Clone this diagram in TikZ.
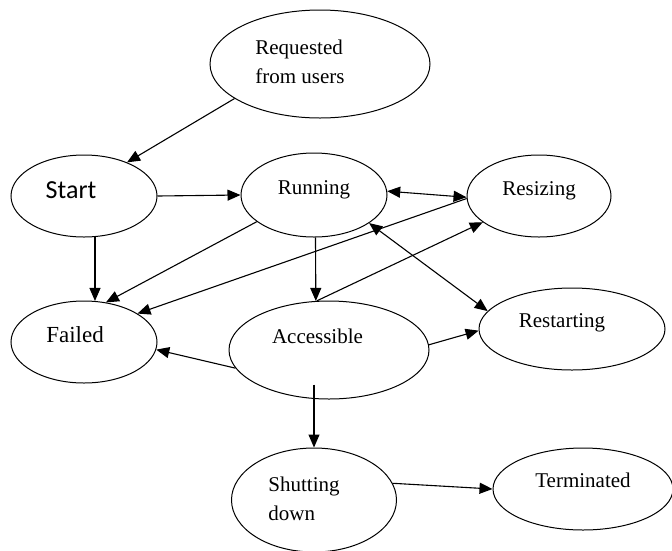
\documentclass[tikz,border=0pt]{standalone}
\usepackage{fontspec}
\setmainfont{Liberation Serif}
\newfontfamily\calibrifont{Carlito}
\usetikzlibrary{shapes.geometric,arrows.meta}

\begin{document}
\begin{tikzpicture}[
    x=1pt, y=-1pt,
    state/.style={%
      draw,
      ellipse,
      line width=1pt,
      inner sep=0pt,
      font=\fontsize{21}{29}\selectfont,
    },
    arr/.style={%
      line width=1.1pt,
      -{Triangle[length=13pt,width=11pt]},
    },
    both/.style={%
      line width=1.1pt,
      {Triangle[length=13pt,width=11pt]}-{Triangle[length=13pt,width=11pt]},
    },
  ]

    \useasboundingbox (0,0) rectangle (672,550);
    \clip (0,0) rectangle (672,550);

    \node [state, minimum width=220pt, minimum height=108pt] (req) at (320,64)
      {\raisebox{-19pt}[0pt][0pt]{\begin{tabular}[b]{@{}l@{}}Requested\\from users\end{tabular}}\hspace*{40pt}};
    \node [state, minimum width=146pt, minimum height=82pt,
      font=\calibrifont\fontsize{26}{30}\selectfont] (start) at (84,196)
      {\raisebox{-2pt}[0pt][0pt]{Start}\hspace*{26pt}};
    \node [state, minimum width=146pt, minimum height=84pt] (run) at (314,195)
      {\raisebox{1pt}[0pt][0pt]{Running}};
    \node [state, minimum width=144pt, minimum height=82pt] (resize) at (539,196)
      {\raisebox{1pt}[0pt][0pt]{Resizing}};
    \node [state, minimum width=146pt, minimum height=82pt,
      font=\fontsize{23}{29}\selectfont] (failed) at (84,342)
      {\raisebox{0pt}[0pt][0pt]{Failed}\hspace*{18pt}};
    \node [state, minimum width=200pt, minimum height=98pt] (access) at (329,350)
      {\raisebox{7pt}[0pt][0pt]{Accessible}\hspace*{23pt}};
    \node [state, minimum width=186pt, minimum height=82pt] (restart) at (572,329)
      {\raisebox{2pt}[0pt][0pt]{Restarting}\hspace*{20pt}};
    \node [state, minimum width=165pt, minimum height=104pt] (shut) at (314,500)
      {\raisebox{-20pt}[0pt][0pt]{\begin{tabular}[b]{@{}l@{}}Shutting\\down\end{tabular}}\hspace*{20pt}};
    \node [state, minimum width=180pt, minimum height=82pt] (term) at (583,489)
      {\raisebox{2pt}[0pt][0pt]{Terminated}};

    \draw [arr] (req.202) -- (start.38);
    \draw [arr] (start.east) -- (run.west);
    \draw [arr] (start.-75) -- (failed.75);
    \draw [both] (run.3) -- (resize.181);
    \draw [arr] (run.205) -- (failed.61);
    \draw [arr] (resize.182) -- (failed.28);
    \draw [arr] (run.-88) -- (access.105);
    \draw [arr] (access.104) -- (resize.205);
    \draw [both] (run.-27) -- (restart.168);
    \draw [arr] (access.3) -- (restart.181);
    \draw [arr] (access.191) -- (failed.-6);
    \draw [arr] ([xshift=-15pt,yshift=15pt]access.south) -- (shut.north);
    \draw [arr] (shut.12) -- (term.west);
\end{tikzpicture}
\end{document}
